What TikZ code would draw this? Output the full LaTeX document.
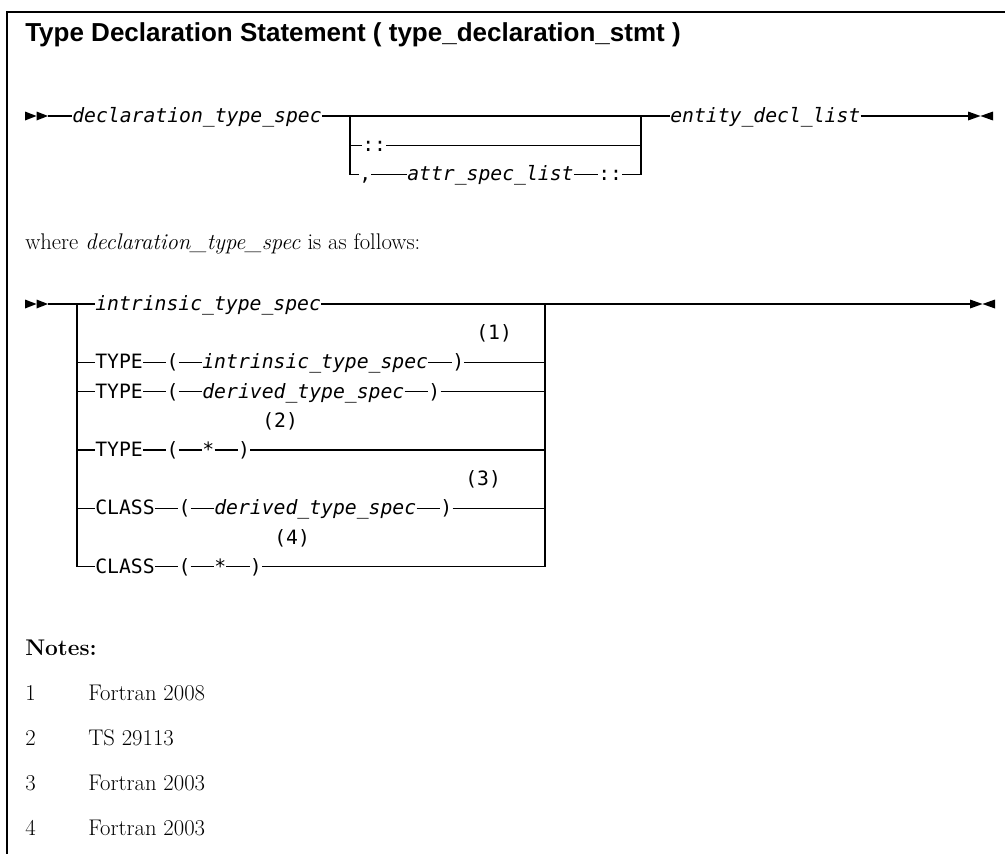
\documentclass[tikz,border=0pt]{standalone}
\usepackage{fontspec}
\newfontfamily\headfont{Liberation Sans}
\newfontfamily\synfont{DejaVu Sans Mono}
\begin{document}
\begin{tikzpicture}[
	x=0.75pt, y=-0.75pt,
	track/.style={ line width=0.9pt },
	kw/.style={ anchor=west, inner sep=0pt, text height=9.6pt, text depth=0pt, font=\synfont\fontsize{14.8}{16}\selectfont },
	var/.style={ kw, font=\synfont\itshape\fontsize{14.8}{16}\selectfont },
	prose/.style={ anchor=base west, inner sep=0pt, font=\fontsize{17}{20}\selectfont }
]
	\useasboundingbox (0,0) rectangle (1005,854);
	\draw[line width=1.1pt] (1005,12) -- (7,12) -- (7,854);
	\node at (25,41) (title) [anchor=base west, inner sep=0pt, font=\headfont\bfseries\fontsize{19.5}{23}\selectfont] {Type Declaration Statement ( type\_declaration\_stmt )};

	\coordinate (s1) at (25,116);
	\coordinate (s1e) at (48,116);
	\coordinate (l1) at (350,116);
	\coordinate (r1) at (641,116);
	\coordinate (e1) at (968,116);
	\fill (s1) ++(0,-4.5) -- ++(11.5,4.5) -- ++(-11.5,4.5) -- cycle;
	\fill (s1) ++(11.5,-4.5) -- ++(11.5,4.5) -- ++(-11.5,4.5) -- cycle;
	\node at (72,116) (dts) [var] {declaration\_type\_spec};
	\node at (362,145.2) (dc1) [kw] {::};
	\node at (359,174.4) (cm1) [kw] {,};
	\node at (407,174.4) (asl) [var] {attr\_spec\_list};
	\node at (598,174.4) (dc2) [kw] {::};
	\node at (670,116) (edl) [var] {entity\_decl\_list};
	\draw[track] (s1e) -- (dts.west);
	\draw[track] (dts.east) -- (edl.west);
	\draw[track] (l1) |- (cm1.west);
	\draw[track] (l1 |- dc1.west) -- (dc1.west);
	\draw[track] (dc1.east) -- (r1 |- dc1.east);
	\draw[track] (cm1.east) -- (asl.west);
	\draw[track] (asl.east) -- (dc2.west);
	\draw[track] (dc2.east) -| (r1);
	\draw[track] (edl.east) -- (e1);
	\fill (e1) ++(0,-4.5) -- ++(12.5,4.5) -- ++(-12.5,4.5) -- cycle;
	\fill (e1) ++(25,-4.5) -- ++(-12.5,4.5) -- ++(12.5,4.5) -- cycle;

	\node at (25,249) (where) [prose] {where \textit{declaration\_type\_spec} is as follows:};

	\coordinate (s2) at (25,304);
	\coordinate (s2e) at (48,304);
	\coordinate (l2) at (77,304);
	\coordinate (r2) at (545,304);
	\coordinate (e2) at (970,304);
	\fill (s2) ++(0,-4.5) -- ++(11.5,4.5) -- ++(-11.5,4.5) -- cycle;
	\fill (s2) ++(11.5,-4.5) -- ++(11.5,4.5) -- ++(-11.5,4.5) -- cycle;
	\node at (95,304) (its) [var] {intrinsic\_type\_spec};
	\node at (95,362.4) (ty1) [kw] {TYPE};
	\node at (166.4,362.4) (lp1) [kw] {(};
	\node at (202.1,362.4) (it1) [var] {intrinsic\_type\_spec};
	\node at (452,362.4) (rp1) [kw] {)};
	\node at (476,333.2) (f1) [kw] {(1)};
	\node at (95,391.6) (ty2) [kw] {TYPE};
	\node at (166.4,391.6) (lp2) [kw] {(};
	\node at (202.1,391.6) (dt2) [var] {derived\_type\_spec};
	\node at (428.2,391.6) (rp2) [kw] {)};
	\node at (95,450) (ty3) [kw] {TYPE};
	\node at (166.4,450) (lp3) [kw] {(};
	\node at (202.1,450) (st3) [kw] {*};
	\node at (237.8,450) (rp3) [kw] {)};
	\node at (262,420.8) (f2) [kw] {(2)};
	\node at (95,508.4) (cl4) [kw] {CLASS};
	\node at (178.3,508.4) (lp4) [kw] {(};
	\node at (214,508.4) (dt4) [var] {derived\_type\_spec};
	\node at (440.1,508.4) (rp4) [kw] {)};
	\node at (465,479.2) (f3) [kw] {(3)};
	\node at (95,566.8) (cl5) [kw] {CLASS};
	\node at (178.3,566.8) (lp5) [kw] {(};
	\node at (214,566.8) (st5) [kw] {*};
	\node at (249.7,566.8) (rp5) [kw] {)};
	\node at (274,537.6) (f4) [kw] {(4)};
	\draw[track] (s2e) -- (its.west);
	\draw[track] (its.east) -- (e2);
	\draw[track] (l2) |- (cl5.west);
	\draw[track] (rp5.east) -| (r2);
	\draw[track] (l2 |- ty1.west) -- (ty1.west) (ty1.east) -- (lp1.west) (lp1.east) -- (it1.west) (it1.east) -- (rp1.west) (rp1.east) -- (r2 |- rp1.east);
	\draw[track] (l2 |- ty2.west) -- (ty2.west) (ty2.east) -- (lp2.west) (lp2.east) -- (dt2.west) (dt2.east) -- (rp2.west) (rp2.east) -- (r2 |- rp2.east);
	\draw[track] (l2 |- ty3.west) -- (ty3.west) (ty3.east) -- (lp3.west) (lp3.east) -- (st3.west) (st3.east) -- (rp3.west) (rp3.east) -- (r2 |- rp3.east);
	\draw[track] (l2 |- cl4.west) -- (cl4.west) (cl4.east) -- (lp4.west) (lp4.east) -- (dt4.west) (dt4.east) -- (rp4.west) (rp4.east) -- (r2 |- rp4.east);
	\draw[track] (cl5.east) -- (lp5.west) (lp5.east) -- (st5.west) (st5.east) -- (rp5.west);
	\fill (e2) ++(0,-4.5) -- ++(12.5,4.5) -- ++(-12.5,4.5) -- cycle;
	\fill (e2) ++(25,-4.5) -- ++(-12.5,4.5) -- ++(12.5,4.5) -- cycle;

	\node at (25,655) (notes) [prose, font=\bfseries\fontsize{17}{20}\selectfont] {Notes:};
	\node at (25,700) (n1) [prose] {1};
	\node at (88,700) (t1) [prose] {Fortran 2008};
	\node at (25,745) (n2) [prose] {2};
	\node at (88,745) (t2) [prose] {TS 29113};
	\node at (25,790) (n3) [prose] {3};
	\node at (88,790) (t3) [prose] {Fortran 2003};
	\node at (25,835) (n4) [prose] {4};
	\node at (88,835) (t4) [prose] {Fortran 2003};
\end{tikzpicture}
\end{document}
